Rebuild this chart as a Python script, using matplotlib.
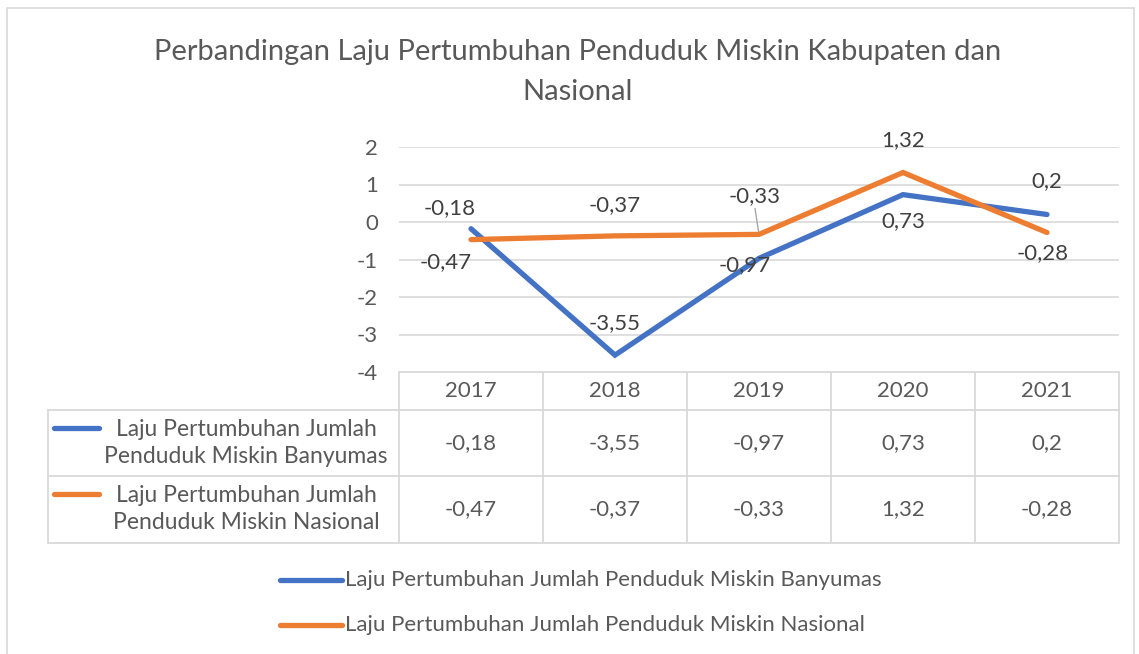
import matplotlib.pyplot as plt
from matplotlib.lines import Line2D

plt.rcParams['font.family'] = ['Lato', 'DejaVu Sans']

years = ['2017', '2018', '2019', '2020', '2021']
banyumas = [-0.18, -3.55, -0.97, 0.73, 0.2]
nasional = [-0.47, -0.37, -0.33, 1.32, -0.28]
name_b = 'Laju Pertumbuhan Jumlah Penduduk Miskin Banyumas'
name_n = 'Laju Pertumbuhan Jumlah Penduduk Miskin Nasional'
title = 'Perbandingan Laju Pertumbuhan Penduduk Miskin Kabupaten dan\nNasional'

blue = '#4472C4'
orange = '#ED7D31'
txt = '#595959'
grid = '#D9D9D9'
fs = 16

W, H = 1139, 654
fig = plt.figure(figsize=(W / 100, H / 100), dpi=100)

def fx(px):
    return px / W

def fy(py):
    return 1 - py / H

# outer frame
fig.add_artist(plt.Rectangle((fx(7), fy(700)), fx(1134) - fx(7), fy(8) - fy(700),
                             transform=fig.transFigure, fill=False, ec='#D9D9D9', lw=1.2))

ax = fig.add_axes([fx(399), fy(372), fx(1119) - fx(399), fy(147) - fy(372)])
x = list(range(len(years)))
ax.plot(x, banyumas, color=blue, lw=3.8, solid_capstyle='round', solid_joinstyle='miter', zorder=3)
ax.plot(x, nasional, color=orange, lw=3.8, solid_capstyle='round', solid_joinstyle='miter', zorder=4)
ax.set_xlim(-0.5, len(years) - 0.5)
ax.set_ylim(-4, 2)
ax.set_yticks(range(-4, 3))
ax.set_yticklabels([str(v) for v in range(-4, 3)])
ax.tick_params(axis='y', length=0, pad=15, labelsize=fs, labelcolor=txt)
ax.set_xticks([])
for s in ax.spines.values():
    s.set_visible(False)
for v in range(-3, 3):
    ax.axhline(v, color=grid, lw=1.2, zorder=1)

def fmt(v):
    return ('%g' % v).replace('.', ',')

# data labels (offsets in pixels)
off_b = [(-21, 21), (0, 32), (-14, -7), (0, -26), (0, 33)]
off_n = [(-25, -22), (0, 31), (-4, 38), (0, 32), (-4, -21)]
for i in x:
    ax.annotate(fmt(banyumas[i]), (i, banyumas[i]), xytext=off_b[i], textcoords='offset pixels',
                ha='center', va='center', fontsize=fs, color='#404040', zorder=6)
    ax.annotate(fmt(nasional[i]), (i, nasional[i]), xytext=off_n[i], textcoords='offset pixels',
                ha='center', va='center', fontsize=fs, color='#404040', zorder=6)
# leader line for 2019 nasional label
ax.annotate('', (2, nasional[2]), xytext=(-4, 26), textcoords='offset pixels',
            arrowprops=dict(arrowstyle='-', color='#A6A6A6', lw=1, shrinkA=0, shrinkB=2))

# data table drawn below the axis
tl = dict(color=grid, lw=1.3, transform=fig.transFigure)
for py, x0 in [(372, 399), (410, 48), (476, 48), (543, 48)]:
    fig.add_artist(Line2D([fx(x0), fx(1119)], [fy(py), fy(py)], **tl))
fig.add_artist(Line2D([fx(48), fx(48)], [fy(410), fy(543)], **tl))
tb = ax.get_xaxis_transform()
for i in range(len(years) + 1):
    ax.plot([i - 0.5, i - 0.5], [0, -(543 - 372) / (372 - 147)], transform=tb,
            color=grid, lw=1.3, clip_on=False)
def ycell(py):
    return -(py - 372) / (372 - 147)
for i in x:
    ax.text(i, ycell(391), years[i], transform=tb, ha='center', va='center', fontsize=fs, color=txt)
    ax.text(i, ycell(443), fmt(banyumas[i]), transform=tb, ha='center', va='center', fontsize=fs, color=txt)
    ax.text(i, ycell(509), fmt(nasional[i]), transform=tb, ha='center', va='center', fontsize=fs, color=txt)

for py, col, name in [(443, blue, name_b), (509, orange, name_n)]:
    fig.add_artist(Line2D([fx(54), fx(99)], [fy(py - 15), fy(py - 15)], color=col, lw=3.8,
                          solid_capstyle='round', transform=fig.transFigure))
    words = name.split(' ')
    label = ' '.join(words[:3]) + '\n' + ' '.join(words[3:])
    fig.text(fx(246), fy(py), label, ha='center', va='center', ma='center', fontsize=16.5,
             color=txt, linespacing=1.3)

# legend
for py, col, name in [(580, blue, name_b), (625, orange, name_n)]:
    fig.add_artist(Line2D([fx(280), fx(342)], [fy(py), fy(py)], color=col, lw=3.8,
                          solid_capstyle='round', transform=fig.transFigure))
    fig.text(fx(345), fy(py), name, ha='left', va='center', fontsize=fs, color=txt)

fig.text(fx(578), fy(72), title, ha='center', va='center', fontsize=21, color=txt, linespacing=1.65)

fig.savefig('out.png', dpi=100)
